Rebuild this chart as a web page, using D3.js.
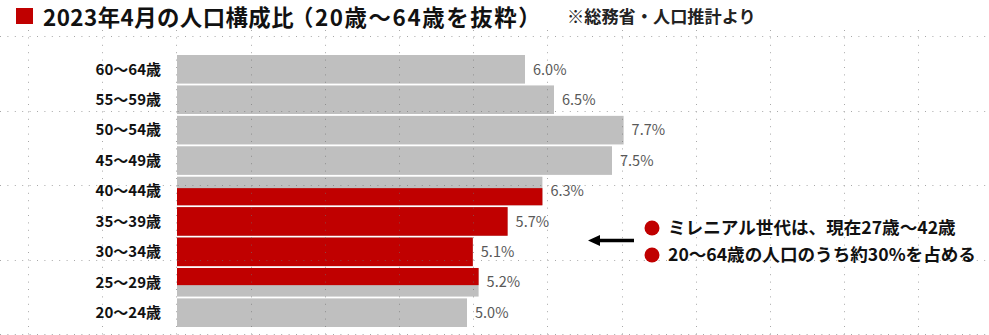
<!DOCTYPE html>
<html><head><meta charset="utf-8">
<script src="https://cdn.jsdelivr.net/npm/d3@7/dist/d3.min.js"></script>
<style>
html,body{margin:0;padding:0;background:#fff;}
svg{display:block;font-family:"Noto Sans CJK JP","Noto Sans",sans-serif;}
</style></head>
<body>
<svg id="chart" width="989" height="335"></svg>
<script>
// ---- data ----
const categories = ["60～64歳","55～59歳","50～54歳","45～49歳","40～44歳","35～39歳","30～34歳","25～29歳","20～24歳"];
const ageLow = [60,55,50,45,40,35,30,25,20];
const shares = [6.0,6.5,7.7,7.5,6.3,5.7,5.1,5.2,5.0];
const valueLabels = ["6.0%","6.5%","7.7%","7.5%","6.3%","5.7%","5.1%","5.2%","5.0%"];
const millennialAges = [27, 42];
const titleText = "2023年4月の人口構成比";
const subTitleText = "（20歳～64歳を抜粋）";
const sourceText = "※総務省・人口推計より";
const notes = ["ミレニアル世代は、現在27歳～42歳","20～64歳の人口のうち約30%を占める"];

const svg = d3.select("#chart");
const W = 989, H = 335;
const RED = "#c00000", GREY = "#bfbfbf";

const x = d3.scaleLinear().domain([0, 10]).range([177, 757]);
const y = d3.scaleBand().domain(categories).range([55, 327]).paddingInner(0.06).paddingOuter(0);
const bw = y.bandwidth();

const rows = categories.map((c,i)=>({cat:c, lo:ageLow[i], v:shares[i], label:valueLabels[i]}));

// grey bars
svg.append("g").selectAll("rect").data(rows).join("rect")
  .attr("x", x(0)).attr("y", d=>y(d.cat))
  .attr("width", d=>x(d.v)-x(0)).attr("height", bw)
  .attr("fill", GREY);

// red overlay for millennial ages
const mLo = millennialAges[0], mHi = millennialAges[1] + 1;
const redRows = rows.map(d=>{
  const rHi = d.lo + 5;
  const lo = Math.max(d.lo, mLo), hi = Math.min(rHi, mHi);
  return hi > lo ? {d, top: y(d.cat) + (rHi - hi)/5*bw, h: (hi-lo)/5*bw} : null;
}).filter(Boolean);
svg.append("g").selectAll("rect").data(redRows).join("rect")
  .attr("x", x(0)).attr("y", r=>r.top)
  .attr("width", r=>x(r.d.v)-x(0)).attr("height", r=>r.h)
  .attr("fill", RED);

// background dotted grid (slide guides)
const grid = svg.append("g").attr("stroke","#707070").attr("stroke-width",1)
  .attr("stroke-dasharray","1 6.4").attr("opacity",0.6);
d3.range(0,14).forEach(k=>{
  const gx = Math.round(28 + k*74.2)+0.5;
  grid.append("line").attr("x1",gx).attr("x2",gx).attr("y1",30).attr("y2",H);
});
d3.range(0,5).forEach(k=>{
  const gy = Math.round(36 + k*74.6)+0.5;
  grid.append("line").attr("x1",0).attr("x2",W).attr("y1",gy).attr("y2",gy);
});

// category axis
const yAxis = svg.append("g").attr("transform","translate(161,0)")
  .call(d3.axisLeft(y).tickSize(0).tickPadding(0));
yAxis.select(".domain").remove();
yAxis.selectAll("text").attr("font-size",15).attr("font-weight",700)
  .attr("fill","#111").attr("font-family","'Noto Sans CJK JP',sans-serif").attr("dy","0.35em");

// value labels
svg.append("g").selectAll("text").data(rows).join("text")
  .attr("x", d=>x(d.v)+8).attr("y", d=>y(d.cat)+bw/2).attr("dy","0.36em")
  .attr("font-size",14.5).attr("font-weight",400).attr("fill","#595959")
  .text(d=>d.label);

// title
svg.append("rect").attr("x",16).attr("y",8).attr("width",17).attr("height",16).attr("fill",RED);
svg.append("text").attr("x",43).attr("y",26).attr("font-size",22.4).attr("font-weight",700)
  .attr("letter-spacing",0.45).attr("fill","#111").text(titleText);
svg.append("text").attr("x",291).attr("y",26).attr("font-size",22.4).attr("font-weight",700)
  .attr("letter-spacing",1.6).attr("fill","#111").text(subTitleText);
svg.append("text").attr("x",567).attr("y",23).attr("font-size",17.2).attr("font-weight",700).attr("fill","#222").text(sourceText);

// arrow
svg.append("line").attr("x1",634).attr("x2",598).attr("y1",240.5).attr("y2",240.5)
  .attr("stroke","#000").attr("stroke-width",3.5);
svg.append("path").attr("d","M588,240.5 L600,235 L600,246 Z").attr("fill","#000");

// notes
const noteY = [228, 255];
notes.forEach((n,i)=>{
  svg.append("circle").attr("cx",652).attr("cy",noteY[i]).attr("r",7.5).attr("fill",RED);
  svg.append("text").attr("x",668).attr("y",noteY[i]).attr("dy","0.36em")
    .attr("font-size",17.6).attr("font-weight",700).attr("fill","#111").text(n);
});
</script>
</body></html>
